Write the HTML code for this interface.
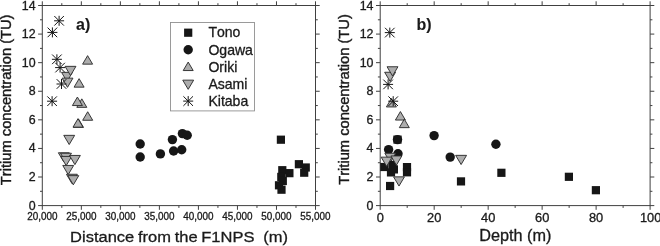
<!DOCTYPE html>
<html><head><meta charset="utf-8"><title>chart</title>
<style>
html,body{margin:0;padding:0;background:#fff;}
svg{display:block;font-family:"Liberation Sans",sans-serif;will-change:transform;font-kerning:none;}
</style></head><body>
<svg width="660" height="246" viewBox="0 0 660 246">
<rect width="660" height="246" fill="#fff"/>
<rect x="42.30" y="5.50" width="273.20" height="200.10" fill="none" stroke="#404040" stroke-width="1.0"/>
<line x1="38.10" y1="205.60" x2="42.30" y2="205.60" stroke="#404040" stroke-width="1.0"/>
<line x1="315.50" y1="205.60" x2="319.70" y2="205.60" stroke="#404040" stroke-width="1.0"/>
<text transform="translate(35.60,209.60) scale(1.0,1.0)" font-size="12.4" text-anchor="end" font-weight="normal" fill="#1a1a1a" stroke="#1a1a1a" stroke-width="0.3" word-spacing="0">0</text>
<line x1="38.10" y1="177.01" x2="42.30" y2="177.01" stroke="#404040" stroke-width="1.0"/>
<line x1="315.50" y1="177.01" x2="319.70" y2="177.01" stroke="#404040" stroke-width="1.0"/>
<text transform="translate(35.60,181.01) scale(1.0,1.0)" font-size="12.4" text-anchor="end" font-weight="normal" fill="#1a1a1a" stroke="#1a1a1a" stroke-width="0.3" word-spacing="0">2</text>
<line x1="38.10" y1="148.43" x2="42.30" y2="148.43" stroke="#404040" stroke-width="1.0"/>
<line x1="315.50" y1="148.43" x2="319.70" y2="148.43" stroke="#404040" stroke-width="1.0"/>
<text transform="translate(35.60,152.43) scale(1.0,1.0)" font-size="12.4" text-anchor="end" font-weight="normal" fill="#1a1a1a" stroke="#1a1a1a" stroke-width="0.3" word-spacing="0">4</text>
<line x1="38.10" y1="119.84" x2="42.30" y2="119.84" stroke="#404040" stroke-width="1.0"/>
<line x1="315.50" y1="119.84" x2="319.70" y2="119.84" stroke="#404040" stroke-width="1.0"/>
<text transform="translate(35.60,123.84) scale(1.0,1.0)" font-size="12.4" text-anchor="end" font-weight="normal" fill="#1a1a1a" stroke="#1a1a1a" stroke-width="0.3" word-spacing="0">6</text>
<line x1="38.10" y1="91.26" x2="42.30" y2="91.26" stroke="#404040" stroke-width="1.0"/>
<line x1="315.50" y1="91.26" x2="319.70" y2="91.26" stroke="#404040" stroke-width="1.0"/>
<text transform="translate(35.60,95.26) scale(1.0,1.0)" font-size="12.4" text-anchor="end" font-weight="normal" fill="#1a1a1a" stroke="#1a1a1a" stroke-width="0.3" word-spacing="0">8</text>
<line x1="38.10" y1="62.67" x2="42.30" y2="62.67" stroke="#404040" stroke-width="1.0"/>
<line x1="315.50" y1="62.67" x2="319.70" y2="62.67" stroke="#404040" stroke-width="1.0"/>
<text transform="translate(35.60,66.67) scale(1.0,1.0)" font-size="12.4" text-anchor="end" font-weight="normal" fill="#1a1a1a" stroke="#1a1a1a" stroke-width="0.3" word-spacing="0">10</text>
<line x1="38.10" y1="34.09" x2="42.30" y2="34.09" stroke="#404040" stroke-width="1.0"/>
<line x1="315.50" y1="34.09" x2="319.70" y2="34.09" stroke="#404040" stroke-width="1.0"/>
<text transform="translate(35.60,38.09) scale(1.0,1.0)" font-size="12.4" text-anchor="end" font-weight="normal" fill="#1a1a1a" stroke="#1a1a1a" stroke-width="0.3" word-spacing="0">12</text>
<line x1="38.10" y1="5.50" x2="42.30" y2="5.50" stroke="#404040" stroke-width="1.0"/>
<line x1="315.50" y1="5.50" x2="319.70" y2="5.50" stroke="#404040" stroke-width="1.0"/>
<text transform="translate(35.60,9.50) scale(1.0,1.0)" font-size="12.4" text-anchor="end" font-weight="normal" fill="#1a1a1a" stroke="#1a1a1a" stroke-width="0.3" word-spacing="0">14</text>
<line x1="40.00" y1="191.31" x2="42.30" y2="191.31" stroke="#404040" stroke-width="1.0"/>
<line x1="315.50" y1="191.31" x2="317.80" y2="191.31" stroke="#404040" stroke-width="1.0"/>
<line x1="40.00" y1="162.72" x2="42.30" y2="162.72" stroke="#404040" stroke-width="1.0"/>
<line x1="315.50" y1="162.72" x2="317.80" y2="162.72" stroke="#404040" stroke-width="1.0"/>
<line x1="40.00" y1="134.14" x2="42.30" y2="134.14" stroke="#404040" stroke-width="1.0"/>
<line x1="315.50" y1="134.14" x2="317.80" y2="134.14" stroke="#404040" stroke-width="1.0"/>
<line x1="40.00" y1="105.55" x2="42.30" y2="105.55" stroke="#404040" stroke-width="1.0"/>
<line x1="315.50" y1="105.55" x2="317.80" y2="105.55" stroke="#404040" stroke-width="1.0"/>
<line x1="40.00" y1="76.96" x2="42.30" y2="76.96" stroke="#404040" stroke-width="1.0"/>
<line x1="315.50" y1="76.96" x2="317.80" y2="76.96" stroke="#404040" stroke-width="1.0"/>
<line x1="40.00" y1="48.38" x2="42.30" y2="48.38" stroke="#404040" stroke-width="1.0"/>
<line x1="315.50" y1="48.38" x2="317.80" y2="48.38" stroke="#404040" stroke-width="1.0"/>
<line x1="40.00" y1="19.79" x2="42.30" y2="19.79" stroke="#404040" stroke-width="1.0"/>
<line x1="315.50" y1="19.79" x2="317.80" y2="19.79" stroke="#404040" stroke-width="1.0"/>
<line x1="42.30" y1="205.60" x2="42.30" y2="209.80" stroke="#404040" stroke-width="1.0"/>
<line x1="42.30" y1="1.30" x2="42.30" y2="5.50" stroke="#404040" stroke-width="1.0"/>
<line x1="81.33" y1="205.60" x2="81.33" y2="209.80" stroke="#404040" stroke-width="1.0"/>
<line x1="81.33" y1="1.30" x2="81.33" y2="5.50" stroke="#404040" stroke-width="1.0"/>
<line x1="120.36" y1="205.60" x2="120.36" y2="209.80" stroke="#404040" stroke-width="1.0"/>
<line x1="120.36" y1="1.30" x2="120.36" y2="5.50" stroke="#404040" stroke-width="1.0"/>
<line x1="159.39" y1="205.60" x2="159.39" y2="209.80" stroke="#404040" stroke-width="1.0"/>
<line x1="159.39" y1="1.30" x2="159.39" y2="5.50" stroke="#404040" stroke-width="1.0"/>
<line x1="198.41" y1="205.60" x2="198.41" y2="209.80" stroke="#404040" stroke-width="1.0"/>
<line x1="198.41" y1="1.30" x2="198.41" y2="5.50" stroke="#404040" stroke-width="1.0"/>
<line x1="237.44" y1="205.60" x2="237.44" y2="209.80" stroke="#404040" stroke-width="1.0"/>
<line x1="237.44" y1="1.30" x2="237.44" y2="5.50" stroke="#404040" stroke-width="1.0"/>
<line x1="276.47" y1="205.60" x2="276.47" y2="209.80" stroke="#404040" stroke-width="1.0"/>
<line x1="276.47" y1="1.30" x2="276.47" y2="5.50" stroke="#404040" stroke-width="1.0"/>
<line x1="315.50" y1="205.60" x2="315.50" y2="209.80" stroke="#404040" stroke-width="1.0"/>
<line x1="315.50" y1="1.30" x2="315.50" y2="5.50" stroke="#404040" stroke-width="1.0"/>
<line x1="61.81" y1="205.60" x2="61.81" y2="207.90" stroke="#404040" stroke-width="1.0"/>
<line x1="61.81" y1="3.20" x2="61.81" y2="5.50" stroke="#404040" stroke-width="1.0"/>
<line x1="100.84" y1="205.60" x2="100.84" y2="207.90" stroke="#404040" stroke-width="1.0"/>
<line x1="100.84" y1="3.20" x2="100.84" y2="5.50" stroke="#404040" stroke-width="1.0"/>
<line x1="139.87" y1="205.60" x2="139.87" y2="207.90" stroke="#404040" stroke-width="1.0"/>
<line x1="139.87" y1="3.20" x2="139.87" y2="5.50" stroke="#404040" stroke-width="1.0"/>
<line x1="178.90" y1="205.60" x2="178.90" y2="207.90" stroke="#404040" stroke-width="1.0"/>
<line x1="178.90" y1="3.20" x2="178.90" y2="5.50" stroke="#404040" stroke-width="1.0"/>
<line x1="217.93" y1="205.60" x2="217.93" y2="207.90" stroke="#404040" stroke-width="1.0"/>
<line x1="217.93" y1="3.20" x2="217.93" y2="5.50" stroke="#404040" stroke-width="1.0"/>
<line x1="256.96" y1="205.60" x2="256.96" y2="207.90" stroke="#404040" stroke-width="1.0"/>
<line x1="256.96" y1="3.20" x2="256.96" y2="5.50" stroke="#404040" stroke-width="1.0"/>
<line x1="295.99" y1="205.60" x2="295.99" y2="207.90" stroke="#404040" stroke-width="1.0"/>
<line x1="295.99" y1="3.20" x2="295.99" y2="5.50" stroke="#404040" stroke-width="1.0"/>
<text transform="translate(42.30,220.30) scale(0.99,1.0)" font-size="10.0" text-anchor="middle" font-weight="normal" fill="#1a1a1a" stroke="#1a1a1a" stroke-width="0.3" word-spacing="0">20,000</text>
<text transform="translate(81.33,220.30) scale(0.99,1.0)" font-size="10.0" text-anchor="middle" font-weight="normal" fill="#1a1a1a" stroke="#1a1a1a" stroke-width="0.3" word-spacing="0">25,000</text>
<text transform="translate(120.36,220.30) scale(0.99,1.0)" font-size="10.0" text-anchor="middle" font-weight="normal" fill="#1a1a1a" stroke="#1a1a1a" stroke-width="0.3" word-spacing="0">30,000</text>
<text transform="translate(159.39,220.30) scale(0.99,1.0)" font-size="10.0" text-anchor="middle" font-weight="normal" fill="#1a1a1a" stroke="#1a1a1a" stroke-width="0.3" word-spacing="0">35,000</text>
<text transform="translate(198.41,220.30) scale(0.99,1.0)" font-size="10.0" text-anchor="middle" font-weight="normal" fill="#1a1a1a" stroke="#1a1a1a" stroke-width="0.3" word-spacing="0">40,000</text>
<text transform="translate(237.44,220.30) scale(0.99,1.0)" font-size="10.0" text-anchor="middle" font-weight="normal" fill="#1a1a1a" stroke="#1a1a1a" stroke-width="0.3" word-spacing="0">45,000</text>
<text transform="translate(276.47,220.30) scale(0.99,1.0)" font-size="10.0" text-anchor="middle" font-weight="normal" fill="#1a1a1a" stroke="#1a1a1a" stroke-width="0.3" word-spacing="0">50,000</text>
<text transform="translate(315.50,220.30) scale(0.99,1.0)" font-size="10.0" text-anchor="middle" font-weight="normal" fill="#1a1a1a" stroke="#1a1a1a" stroke-width="0.3" word-spacing="0">55,000</text>
<rect x="380.20" y="5.50" width="269.90" height="200.10" fill="none" stroke="#404040" stroke-width="1.0"/>
<line x1="376.00" y1="205.60" x2="380.20" y2="205.60" stroke="#404040" stroke-width="1.0"/>
<line x1="650.10" y1="205.60" x2="654.30" y2="205.60" stroke="#404040" stroke-width="1.0"/>
<text transform="translate(373.50,209.60) scale(1.0,1.0)" font-size="12.4" text-anchor="end" font-weight="normal" fill="#1a1a1a" stroke="#1a1a1a" stroke-width="0.3" word-spacing="0">0</text>
<line x1="376.00" y1="177.01" x2="380.20" y2="177.01" stroke="#404040" stroke-width="1.0"/>
<line x1="650.10" y1="177.01" x2="654.30" y2="177.01" stroke="#404040" stroke-width="1.0"/>
<text transform="translate(373.50,181.01) scale(1.0,1.0)" font-size="12.4" text-anchor="end" font-weight="normal" fill="#1a1a1a" stroke="#1a1a1a" stroke-width="0.3" word-spacing="0">2</text>
<line x1="376.00" y1="148.43" x2="380.20" y2="148.43" stroke="#404040" stroke-width="1.0"/>
<line x1="650.10" y1="148.43" x2="654.30" y2="148.43" stroke="#404040" stroke-width="1.0"/>
<text transform="translate(373.50,152.43) scale(1.0,1.0)" font-size="12.4" text-anchor="end" font-weight="normal" fill="#1a1a1a" stroke="#1a1a1a" stroke-width="0.3" word-spacing="0">4</text>
<line x1="376.00" y1="119.84" x2="380.20" y2="119.84" stroke="#404040" stroke-width="1.0"/>
<line x1="650.10" y1="119.84" x2="654.30" y2="119.84" stroke="#404040" stroke-width="1.0"/>
<text transform="translate(373.50,123.84) scale(1.0,1.0)" font-size="12.4" text-anchor="end" font-weight="normal" fill="#1a1a1a" stroke="#1a1a1a" stroke-width="0.3" word-spacing="0">6</text>
<line x1="376.00" y1="91.26" x2="380.20" y2="91.26" stroke="#404040" stroke-width="1.0"/>
<line x1="650.10" y1="91.26" x2="654.30" y2="91.26" stroke="#404040" stroke-width="1.0"/>
<text transform="translate(373.50,95.26) scale(1.0,1.0)" font-size="12.4" text-anchor="end" font-weight="normal" fill="#1a1a1a" stroke="#1a1a1a" stroke-width="0.3" word-spacing="0">8</text>
<line x1="376.00" y1="62.67" x2="380.20" y2="62.67" stroke="#404040" stroke-width="1.0"/>
<line x1="650.10" y1="62.67" x2="654.30" y2="62.67" stroke="#404040" stroke-width="1.0"/>
<text transform="translate(373.50,66.67) scale(1.0,1.0)" font-size="12.4" text-anchor="end" font-weight="normal" fill="#1a1a1a" stroke="#1a1a1a" stroke-width="0.3" word-spacing="0">10</text>
<line x1="376.00" y1="34.09" x2="380.20" y2="34.09" stroke="#404040" stroke-width="1.0"/>
<line x1="650.10" y1="34.09" x2="654.30" y2="34.09" stroke="#404040" stroke-width="1.0"/>
<text transform="translate(373.50,38.09) scale(1.0,1.0)" font-size="12.4" text-anchor="end" font-weight="normal" fill="#1a1a1a" stroke="#1a1a1a" stroke-width="0.3" word-spacing="0">12</text>
<line x1="376.00" y1="5.50" x2="380.20" y2="5.50" stroke="#404040" stroke-width="1.0"/>
<line x1="650.10" y1="5.50" x2="654.30" y2="5.50" stroke="#404040" stroke-width="1.0"/>
<text transform="translate(373.50,9.50) scale(1.0,1.0)" font-size="12.4" text-anchor="end" font-weight="normal" fill="#1a1a1a" stroke="#1a1a1a" stroke-width="0.3" word-spacing="0">14</text>
<line x1="377.90" y1="191.31" x2="380.20" y2="191.31" stroke="#404040" stroke-width="1.0"/>
<line x1="650.10" y1="191.31" x2="652.40" y2="191.31" stroke="#404040" stroke-width="1.0"/>
<line x1="377.90" y1="162.72" x2="380.20" y2="162.72" stroke="#404040" stroke-width="1.0"/>
<line x1="650.10" y1="162.72" x2="652.40" y2="162.72" stroke="#404040" stroke-width="1.0"/>
<line x1="377.90" y1="134.14" x2="380.20" y2="134.14" stroke="#404040" stroke-width="1.0"/>
<line x1="650.10" y1="134.14" x2="652.40" y2="134.14" stroke="#404040" stroke-width="1.0"/>
<line x1="377.90" y1="105.55" x2="380.20" y2="105.55" stroke="#404040" stroke-width="1.0"/>
<line x1="650.10" y1="105.55" x2="652.40" y2="105.55" stroke="#404040" stroke-width="1.0"/>
<line x1="377.90" y1="76.96" x2="380.20" y2="76.96" stroke="#404040" stroke-width="1.0"/>
<line x1="650.10" y1="76.96" x2="652.40" y2="76.96" stroke="#404040" stroke-width="1.0"/>
<line x1="377.90" y1="48.38" x2="380.20" y2="48.38" stroke="#404040" stroke-width="1.0"/>
<line x1="650.10" y1="48.38" x2="652.40" y2="48.38" stroke="#404040" stroke-width="1.0"/>
<line x1="377.90" y1="19.79" x2="380.20" y2="19.79" stroke="#404040" stroke-width="1.0"/>
<line x1="650.10" y1="19.79" x2="652.40" y2="19.79" stroke="#404040" stroke-width="1.0"/>
<line x1="380.20" y1="205.60" x2="380.20" y2="209.80" stroke="#404040" stroke-width="1.0"/>
<line x1="380.20" y1="1.30" x2="380.20" y2="5.50" stroke="#404040" stroke-width="1.0"/>
<line x1="434.18" y1="205.60" x2="434.18" y2="209.80" stroke="#404040" stroke-width="1.0"/>
<line x1="434.18" y1="1.30" x2="434.18" y2="5.50" stroke="#404040" stroke-width="1.0"/>
<line x1="488.16" y1="205.60" x2="488.16" y2="209.80" stroke="#404040" stroke-width="1.0"/>
<line x1="488.16" y1="1.30" x2="488.16" y2="5.50" stroke="#404040" stroke-width="1.0"/>
<line x1="542.14" y1="205.60" x2="542.14" y2="209.80" stroke="#404040" stroke-width="1.0"/>
<line x1="542.14" y1="1.30" x2="542.14" y2="5.50" stroke="#404040" stroke-width="1.0"/>
<line x1="596.12" y1="205.60" x2="596.12" y2="209.80" stroke="#404040" stroke-width="1.0"/>
<line x1="596.12" y1="1.30" x2="596.12" y2="5.50" stroke="#404040" stroke-width="1.0"/>
<line x1="650.10" y1="205.60" x2="650.10" y2="209.80" stroke="#404040" stroke-width="1.0"/>
<line x1="650.10" y1="1.30" x2="650.10" y2="5.50" stroke="#404040" stroke-width="1.0"/>
<line x1="407.19" y1="205.60" x2="407.19" y2="207.90" stroke="#404040" stroke-width="1.0"/>
<line x1="407.19" y1="3.20" x2="407.19" y2="5.50" stroke="#404040" stroke-width="1.0"/>
<line x1="461.17" y1="205.60" x2="461.17" y2="207.90" stroke="#404040" stroke-width="1.0"/>
<line x1="461.17" y1="3.20" x2="461.17" y2="5.50" stroke="#404040" stroke-width="1.0"/>
<line x1="515.15" y1="205.60" x2="515.15" y2="207.90" stroke="#404040" stroke-width="1.0"/>
<line x1="515.15" y1="3.20" x2="515.15" y2="5.50" stroke="#404040" stroke-width="1.0"/>
<line x1="569.13" y1="205.60" x2="569.13" y2="207.90" stroke="#404040" stroke-width="1.0"/>
<line x1="569.13" y1="3.20" x2="569.13" y2="5.50" stroke="#404040" stroke-width="1.0"/>
<line x1="623.11" y1="205.60" x2="623.11" y2="207.90" stroke="#404040" stroke-width="1.0"/>
<line x1="623.11" y1="3.20" x2="623.11" y2="5.50" stroke="#404040" stroke-width="1.0"/>
<text transform="translate(380.20,222.00) scale(1.07,1.0)" font-size="12" text-anchor="middle" font-weight="normal" fill="#1a1a1a" stroke="#1a1a1a" stroke-width="0.3" word-spacing="0">0</text>
<text transform="translate(434.18,222.00) scale(1.07,1.0)" font-size="12" text-anchor="middle" font-weight="normal" fill="#1a1a1a" stroke="#1a1a1a" stroke-width="0.3" word-spacing="0">20</text>
<text transform="translate(488.16,222.00) scale(1.07,1.0)" font-size="12" text-anchor="middle" font-weight="normal" fill="#1a1a1a" stroke="#1a1a1a" stroke-width="0.3" word-spacing="0">40</text>
<text transform="translate(542.14,222.00) scale(1.07,1.0)" font-size="12" text-anchor="middle" font-weight="normal" fill="#1a1a1a" stroke="#1a1a1a" stroke-width="0.3" word-spacing="0">60</text>
<text transform="translate(596.12,222.00) scale(1.07,1.0)" font-size="12" text-anchor="middle" font-weight="normal" fill="#1a1a1a" stroke="#1a1a1a" stroke-width="0.3" word-spacing="0">80</text>
<text transform="translate(650.60,222.00) scale(1.07,1.0)" font-size="12" text-anchor="middle" font-weight="normal" fill="#1a1a1a" stroke="#1a1a1a" stroke-width="0.3" word-spacing="0">100</text>
<polygon points="67.00,81.55 72.45,72.35 61.55,72.35" fill="#adadad" stroke="#2e2e2e" stroke-width="0.95" stroke-linejoin="miter"/>
<polygon points="70.50,75.55 75.95,66.35 65.05,66.35" fill="#adadad" stroke="#2e2e2e" stroke-width="0.95" stroke-linejoin="miter"/>
<polygon points="67.50,87.35 72.95,78.15 62.05,78.15" fill="#adadad" stroke="#2e2e2e" stroke-width="0.95" stroke-linejoin="miter"/>
<polygon points="69.20,144.55 74.65,135.35 63.75,135.35" fill="#adadad" stroke="#2e2e2e" stroke-width="0.95" stroke-linejoin="miter"/>
<polygon points="63.80,161.95 69.25,152.75 58.35,152.75" fill="#adadad" stroke="#2e2e2e" stroke-width="0.95" stroke-linejoin="miter"/>
<polygon points="66.00,162.45 71.45,153.25 60.55,153.25" fill="#adadad" stroke="#2e2e2e" stroke-width="0.95" stroke-linejoin="miter"/>
<polygon points="66.20,165.65 71.65,156.45 60.75,156.45" fill="#adadad" stroke="#2e2e2e" stroke-width="0.95" stroke-linejoin="miter"/>
<polygon points="74.90,164.65 80.35,155.45 69.45,155.45" fill="#adadad" stroke="#2e2e2e" stroke-width="0.95" stroke-linejoin="miter"/>
<polygon points="68.20,174.65 73.65,165.45 62.75,165.45" fill="#adadad" stroke="#2e2e2e" stroke-width="0.95" stroke-linejoin="miter"/>
<polygon points="71.90,183.45 77.35,174.25 66.45,174.25" fill="#adadad" stroke="#2e2e2e" stroke-width="0.95" stroke-linejoin="miter"/>
<polygon points="73.30,184.85 78.75,175.65 67.85,175.65" fill="#adadad" stroke="#2e2e2e" stroke-width="0.95" stroke-linejoin="miter"/>
<polygon points="87.60,55.65 92.60,64.15 82.60,64.15" fill="#adadad" stroke="#2e2e2e" stroke-width="0.95" stroke-linejoin="miter"/>
<polygon points="79.10,78.65 84.10,87.15 74.10,87.15" fill="#adadad" stroke="#2e2e2e" stroke-width="0.95" stroke-linejoin="miter"/>
<polygon points="81.80,98.85 86.80,107.35 76.80,107.35" fill="#adadad" stroke="#2e2e2e" stroke-width="0.95" stroke-linejoin="miter"/>
<polygon points="77.40,97.05 82.40,105.55 72.40,105.55" fill="#adadad" stroke="#2e2e2e" stroke-width="0.95" stroke-linejoin="miter"/>
<polygon points="87.70,111.75 92.70,120.25 82.70,120.25" fill="#adadad" stroke="#2e2e2e" stroke-width="0.95" stroke-linejoin="miter"/>
<polygon points="78.50,118.95 83.50,127.45 73.50,127.45" fill="#adadad" stroke="#2e2e2e" stroke-width="0.95" stroke-linejoin="miter"/>
<polygon points="78.00,118.65 83.00,127.15 73.00,127.15" fill="#adadad" stroke="#2e2e2e" stroke-width="0.95" stroke-linejoin="miter"/>
<line x1="54.10" y1="20.80" x2="64.10" y2="20.80" stroke="#151515" stroke-width="1.0"/>
<line x1="59.10" y1="15.80" x2="59.10" y2="25.80" stroke="#151515" stroke-width="1.0"/>
<line x1="54.30" y1="16.00" x2="63.90" y2="25.60" stroke="#151515" stroke-width="1.0"/>
<line x1="54.30" y1="25.60" x2="63.90" y2="16.00" stroke="#151515" stroke-width="1.0"/>
<line x1="47.40" y1="32.40" x2="57.40" y2="32.40" stroke="#151515" stroke-width="1.0"/>
<line x1="52.40" y1="27.40" x2="52.40" y2="37.40" stroke="#151515" stroke-width="1.0"/>
<line x1="47.60" y1="27.60" x2="57.20" y2="37.20" stroke="#151515" stroke-width="1.0"/>
<line x1="47.60" y1="37.20" x2="57.20" y2="27.60" stroke="#151515" stroke-width="1.0"/>
<line x1="51.90" y1="59.30" x2="61.90" y2="59.30" stroke="#151515" stroke-width="1.0"/>
<line x1="56.90" y1="54.30" x2="56.90" y2="64.30" stroke="#151515" stroke-width="1.0"/>
<line x1="52.10" y1="54.50" x2="61.70" y2="64.10" stroke="#151515" stroke-width="1.0"/>
<line x1="52.10" y1="64.10" x2="61.70" y2="54.50" stroke="#151515" stroke-width="1.0"/>
<line x1="55.10" y1="67.60" x2="65.10" y2="67.60" stroke="#151515" stroke-width="1.0"/>
<line x1="60.10" y1="62.60" x2="60.10" y2="72.60" stroke="#151515" stroke-width="1.0"/>
<line x1="55.30" y1="62.80" x2="64.90" y2="72.40" stroke="#151515" stroke-width="1.0"/>
<line x1="55.30" y1="72.40" x2="64.90" y2="62.80" stroke="#151515" stroke-width="1.0"/>
<line x1="56.50" y1="84.00" x2="66.50" y2="84.00" stroke="#151515" stroke-width="1.0"/>
<line x1="61.50" y1="79.00" x2="61.50" y2="89.00" stroke="#151515" stroke-width="1.0"/>
<line x1="56.70" y1="79.20" x2="66.30" y2="88.80" stroke="#151515" stroke-width="1.0"/>
<line x1="56.70" y1="88.80" x2="66.30" y2="79.20" stroke="#151515" stroke-width="1.0"/>
<line x1="47.10" y1="101.20" x2="57.10" y2="101.20" stroke="#151515" stroke-width="1.0"/>
<line x1="52.10" y1="96.20" x2="52.10" y2="106.20" stroke="#151515" stroke-width="1.0"/>
<line x1="47.30" y1="96.40" x2="56.90" y2="106.00" stroke="#151515" stroke-width="1.0"/>
<line x1="47.30" y1="106.00" x2="56.90" y2="96.40" stroke="#151515" stroke-width="1.0"/>
<circle cx="140.20" cy="144.00" r="4.7" fill="#161616"/>
<circle cx="140.20" cy="157.00" r="4.7" fill="#161616"/>
<circle cx="160.40" cy="153.90" r="4.7" fill="#161616"/>
<circle cx="172.40" cy="139.60" r="4.7" fill="#161616"/>
<circle cx="173.60" cy="151.00" r="4.7" fill="#161616"/>
<circle cx="181.70" cy="149.70" r="4.7" fill="#161616"/>
<circle cx="182.40" cy="133.60" r="4.7" fill="#161616"/>
<circle cx="187.20" cy="135.20" r="4.7" fill="#161616"/>
<rect x="276.80" y="135.60" width="8.2" height="8.2" fill="#161616"/>
<rect x="294.80" y="160.10" width="8.2" height="8.2" fill="#161616"/>
<rect x="301.65" y="163.40" width="8.2" height="8.2" fill="#161616"/>
<rect x="300.10" y="168.60" width="8.2" height="8.2" fill="#161616"/>
<rect x="278.20" y="166.10" width="8.2" height="8.2" fill="#161616"/>
<rect x="285.30" y="169.05" width="8.2" height="8.2" fill="#161616"/>
<rect x="277.20" y="172.80" width="8.2" height="8.2" fill="#161616"/>
<rect x="278.70" y="176.90" width="8.2" height="8.2" fill="#161616"/>
<rect x="274.90" y="181.20" width="8.2" height="8.2" fill="#161616"/>
<rect x="277.40" y="185.60" width="8.2" height="8.2" fill="#161616"/>
<rect x="170.5" y="22.5" width="84" height="88.4" fill="#fff" stroke="#909090" stroke-width="0.9"/>
<rect x="184.10" y="28.60" width="8.2" height="8.2" fill="#161616"/>
<circle cx="188.20" cy="49.80" r="4.7" fill="#161616"/>
<polygon points="188.20,62.05 193.20,70.55 183.20,70.55" fill="#adadad" stroke="#2e2e2e" stroke-width="0.95" stroke-linejoin="miter"/>
<polygon points="188.20,89.35 193.65,80.15 182.75,80.15" fill="#adadad" stroke="#2e2e2e" stroke-width="0.95" stroke-linejoin="miter"/>
<line x1="183.20" y1="101.10" x2="193.20" y2="101.10" stroke="#151515" stroke-width="1.0"/>
<line x1="188.20" y1="96.10" x2="188.20" y2="106.10" stroke="#151515" stroke-width="1.0"/>
<line x1="183.40" y1="96.30" x2="193.00" y2="105.90" stroke="#151515" stroke-width="1.0"/>
<line x1="183.40" y1="105.90" x2="193.00" y2="96.30" stroke="#151515" stroke-width="1.0"/>
<text transform="translate(208.40,37.40) scale(1.005,1.0)" font-size="14.0" text-anchor="start" font-weight="normal" fill="#1a1a1a" stroke="#1a1a1a" stroke-width="0.3" word-spacing="0">Tono</text>
<text transform="translate(208.40,54.50) scale(1.005,1.0)" font-size="14.0" text-anchor="start" font-weight="normal" fill="#1a1a1a" stroke="#1a1a1a" stroke-width="0.3" word-spacing="0">Ogawa</text>
<text transform="translate(208.40,71.70) scale(1.005,1.0)" font-size="14.0" text-anchor="start" font-weight="normal" fill="#1a1a1a" stroke="#1a1a1a" stroke-width="0.3" word-spacing="0">Oriki</text>
<text transform="translate(208.40,88.90) scale(1.005,1.0)" font-size="14.0" text-anchor="start" font-weight="normal" fill="#1a1a1a" stroke="#1a1a1a" stroke-width="0.3" word-spacing="0">Asami</text>
<text transform="translate(208.40,106.10) scale(1.005,1.0)" font-size="14.0" text-anchor="start" font-weight="normal" fill="#1a1a1a" stroke="#1a1a1a" stroke-width="0.3" word-spacing="0">Kitaba</text>
<text transform="translate(76.00,29.50) scale(1.0,1.0)" font-size="16" text-anchor="start" font-weight="bold" fill="#1a1a1a" stroke="#1a1a1a" stroke-width="0.1" word-spacing="0">a)</text>
<text transform="translate(416.60,29.50) scale(1.0,1.0)" font-size="16" text-anchor="start" font-weight="bold" fill="#1a1a1a" stroke="#1a1a1a" stroke-width="0.1" word-spacing="0">b)</text>
<polygon points="391.40,98.45 396.40,106.95 386.40,106.95" fill="#adadad" stroke="#2e2e2e" stroke-width="0.95" stroke-linejoin="miter"/>
<polygon points="400.40,111.55 405.40,120.05 395.40,120.05" fill="#adadad" stroke="#2e2e2e" stroke-width="0.95" stroke-linejoin="miter"/>
<polygon points="404.30,119.15 409.30,127.65 399.30,127.65" fill="#adadad" stroke="#2e2e2e" stroke-width="0.95" stroke-linejoin="miter"/>
<circle cx="434.10" cy="135.60" r="4.7" fill="#161616"/>
<circle cx="397.50" cy="139.60" r="4.7" fill="#161616"/>
<circle cx="388.60" cy="149.60" r="4.7" fill="#161616"/>
<circle cx="398.00" cy="153.70" r="4.7" fill="#161616"/>
<circle cx="495.90" cy="144.30" r="4.7" fill="#161616"/>
<circle cx="450.20" cy="157.10" r="4.7" fill="#161616"/>
<rect x="393.40" y="135.50" width="8.2" height="8.2" fill="#161616"/>
<rect x="380.20" y="162.90" width="8.2" height="8.2" fill="#161616"/>
<rect x="389.80" y="165.30" width="8.2" height="8.2" fill="#161616"/>
<rect x="386.90" y="168.30" width="8.2" height="8.2" fill="#161616"/>
<rect x="402.90" y="163.00" width="8.2" height="8.2" fill="#161616"/>
<rect x="402.90" y="168.20" width="8.2" height="8.2" fill="#161616"/>
<rect x="386.00" y="181.90" width="8.2" height="8.2" fill="#161616"/>
<rect x="456.90" y="177.30" width="8.2" height="8.2" fill="#161616"/>
<rect x="497.30" y="168.70" width="8.2" height="8.2" fill="#161616"/>
<rect x="564.80" y="172.70" width="8.2" height="8.2" fill="#161616"/>
<rect x="591.80" y="186.10" width="8.2" height="8.2" fill="#161616"/>
<polygon points="390.30,162.45 395.75,153.25 384.85,153.25" fill="#adadad" stroke="#2e2e2e" stroke-width="0.95" stroke-linejoin="miter"/>
<rect x="388.40" y="160.80" width="8.2" height="8.2" fill="#161616"/>
<polygon points="390.10,81.45 395.55,72.25 384.65,72.25" fill="#adadad" stroke="#2e2e2e" stroke-width="0.95" stroke-linejoin="miter"/>
<polygon points="392.50,75.95 397.95,66.75 387.05,66.75" fill="#adadad" stroke="#2e2e2e" stroke-width="0.95" stroke-linejoin="miter"/>
<polygon points="386.60,166.35 392.05,157.15 381.15,157.15" fill="#adadad" stroke="#2e2e2e" stroke-width="0.95" stroke-linejoin="miter"/>
<polygon points="396.40,165.15 401.85,155.95 390.95,155.95" fill="#adadad" stroke="#2e2e2e" stroke-width="0.95" stroke-linejoin="miter"/>
<polygon points="399.00,186.05 404.45,176.85 393.55,176.85" fill="#adadad" stroke="#2e2e2e" stroke-width="0.95" stroke-linejoin="miter"/>
<polygon points="461.10,164.55 466.55,155.35 455.65,155.35" fill="#adadad" stroke="#2e2e2e" stroke-width="0.95" stroke-linejoin="miter"/>
<line x1="384.80" y1="32.60" x2="394.80" y2="32.60" stroke="#151515" stroke-width="1.0"/>
<line x1="389.80" y1="27.60" x2="389.80" y2="37.60" stroke="#151515" stroke-width="1.0"/>
<line x1="385.00" y1="27.80" x2="394.60" y2="37.40" stroke="#151515" stroke-width="1.0"/>
<line x1="385.00" y1="37.40" x2="394.60" y2="27.80" stroke="#151515" stroke-width="1.0"/>
<line x1="383.10" y1="84.40" x2="393.10" y2="84.40" stroke="#151515" stroke-width="1.0"/>
<line x1="388.10" y1="79.40" x2="388.10" y2="89.40" stroke="#151515" stroke-width="1.0"/>
<line x1="383.30" y1="79.60" x2="392.90" y2="89.20" stroke="#151515" stroke-width="1.0"/>
<line x1="383.30" y1="89.20" x2="392.90" y2="79.60" stroke="#151515" stroke-width="1.0"/>
<line x1="388.20" y1="101.20" x2="398.20" y2="101.20" stroke="#151515" stroke-width="1.0"/>
<line x1="393.20" y1="96.20" x2="393.20" y2="106.20" stroke="#151515" stroke-width="1.0"/>
<line x1="388.40" y1="96.40" x2="398.00" y2="106.00" stroke="#151515" stroke-width="1.0"/>
<line x1="388.40" y1="106.00" x2="398.00" y2="96.40" stroke="#151515" stroke-width="1.0"/>
<text transform="translate(70.1,242.3) scale(1.065,1)" font-size="15.5" word-spacing="-0.83" style="white-space:pre" fill="#1a1a1a" stroke="#1a1a1a" stroke-width="0.3">Distance from the F1NPS  <tspan dx="1.2">(m)</tspan></text>
<text transform="translate(515.30,241.30) scale(1.03,1.0)" font-size="15.8" text-anchor="middle" font-weight="normal" fill="#1a1a1a" stroke="#1a1a1a" stroke-width="0.3" word-spacing="0">Depth (m)</text>
<text transform="translate(11.30,99.80) rotate(-90) scale(0.98,1.0)" font-size="15" text-anchor="middle" font-weight="normal" fill="#1a1a1a" stroke="#1a1a1a" stroke-width="0.4" word-spacing="0">Tritium concentration (TU)</text>
<text transform="translate(349.20,99.50) rotate(-90) scale(0.98,1.0)" font-size="15" text-anchor="middle" font-weight="normal" fill="#1a1a1a" stroke="#1a1a1a" stroke-width="0.4" word-spacing="0">Tritium concentration (TU)</text>
</svg>
</body></html>
